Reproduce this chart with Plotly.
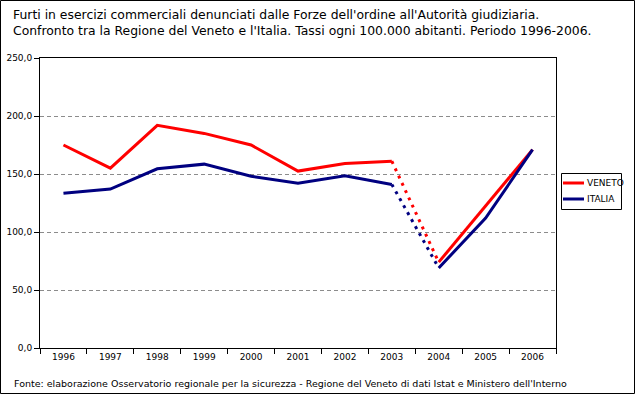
import plotly.graph_objects as go

years = ["1996", "1997", "1998", "1999", "2000", "2001", "2002", "2003", "2004", "2005", "2006"]
veneto = [175.0, 155.0, 192.0, 185.0, 175.0, 152.5, 159.0, 161.0, 74.0, 122.0, 171.0]
italia = [133.5, 137.0, 154.5, 158.5, 148.0, 142.0, 148.5, 141.0, 69.0, 112.0, 171.0]
y_ticks = [0, 50, 100, 150, 200, 250]
series_names = ["VENETO", "ITALIA"]
series_colors = ["#FF0000", "#000080"]

title_lines = [
    "Furti in esercizi commerciali denunciati dalle Forze dell'ordine all'Autorità giudiziaria.",
    "Confronto tra la Regione del Veneto e l'Italia. Tassi ogni 100.000 abitanti. Periodo 1996-2006.",
]
source = "Fonte: elaborazione Osservatorio regionale per la sicurezza - Regione del Veneto di dati Istat e Ministero dell'Interno"

FONT = "DejaVu Sans"
fig = go.Figure()

def add_series(name, vals, color):
    i03 = years.index("2003")
    i04 = years.index("2004")
    seg1 = [v if i <= i03 else None for i, v in enumerate(vals)]
    seg2 = [v if i in (i03, i04) else None for i, v in enumerate(vals)]
    seg3 = [v if i >= i04 else None for i, v in enumerate(vals)]
    fig.add_trace(go.Scatter(x=years, y=seg1, mode="lines", name=name,
                             line=dict(color=color, width=3)))
    fig.add_trace(go.Scatter(x=years, y=seg2, mode="lines", name=name,
                             line=dict(color=color, width=3, dash="3px,5px")))
    fig.add_trace(go.Scatter(x=years, y=seg3, mode="lines", name=name,
                             line=dict(color=color, width=3)))

add_series(series_names[0], veneto, series_colors[0])
add_series(series_names[1], italia, series_colors[1])

FW, FH = 635, 394
ML, MR = 40, 0
L, R, T, B = 40, 556, 58, 348
PW = FW - ML - MR
H = B - T

def px(x):
    return (x - ML) / PW

def py(y):
    return (B - y) / H

shapes = [dict(type="rect", xref="paper", yref="paper",
               x0=px(0.5), x1=px(634.5), y0=py(393.5), y1=py(0.5),
               line=dict(color="black", width=1), layer="below")]
# legend box
shapes.append(dict(type="rect", xref="paper", yref="paper",
                   x0=px(561.5), x1=px(621.5), y0=py(209.5), y1=py(173.5),
                   line=dict(color="black", width=1), fillcolor="white"))
annotations = [
    dict(text=title_lines[0], xref="paper", yref="paper", x=px(11), y=py(5),
         xanchor="left", yanchor="top", showarrow=False, font=dict(size=12.4, family=FONT)),
    dict(text=title_lines[1], xref="paper", yref="paper", x=px(11), y=py(21),
         xanchor="left", yanchor="top", showarrow=False, font=dict(size=12.4, family=FONT)),
    dict(text=source, xref="paper", yref="paper", x=px(12), y=py(376),
         xanchor="left", yanchor="top", showarrow=False, font=dict(size=9.5, family=FONT)),
]
for k, (nm, col) in enumerate(zip(series_names, series_colors)):
    yc = 183 + 16 * k
    shapes.append(dict(type="line", xref="paper", yref="paper",
                       x0=px(563), x1=px(584), y0=py(yc), y1=py(yc),
                       line=dict(color=col, width=3)))
    annotations.append(dict(text=nm, xref="paper", yref="paper", x=px(585), y=py(yc),
                            xanchor="left", yanchor="middle", showarrow=False,
                            font=dict(size=9, family=FONT)))

fig.update_layout(
    width=FW, height=FH,
    margin=dict(l=ML, r=MR, t=T, b=FH - B),
    paper_bgcolor="white", plot_bgcolor="white",
    font=dict(family=FONT, size=9, color="black"),
    separators=",.",
    showlegend=False,
    xaxis=dict(type="category", range=[-0.5, 10.5], tickson="boundaries",
               domain=[0, px(R)],
               ticks="outside", ticklen=5, tickcolor="black",
               showline=True, linecolor="black", linewidth=1, mirror=True,
               showgrid=False, tickfont=dict(size=9)),
    yaxis=dict(range=[0, 250], tickvals=y_ticks, tickformat=".1f",
               ticks="outside", ticklen=5, tickcolor="black",
               showline=True, linecolor="black", linewidth=1, mirror=True,
               showgrid=True, gridcolor="#8c8c8c", griddash="4px,3px", gridwidth=1,
               zeroline=False, tickfont=dict(size=9)),
    shapes=shapes,
    annotations=annotations,
)

fig.write_html("out.html", config={"displayModeBar": False},
               post_script="document.body.style.margin='0px';")
